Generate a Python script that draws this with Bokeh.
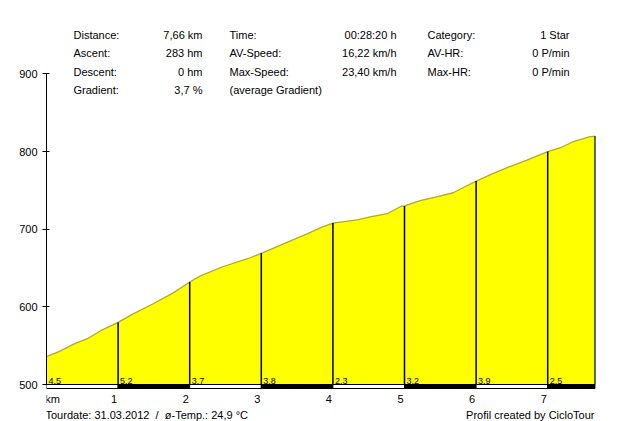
from bokeh.plotting import figure
from bokeh.models import Range1d, FixedTicker, Label
from bokeh.embed import file_html
from bokeh.resources import INLINE
from bokeh.core.properties import value
import numpy as np

# ---------------- data ----------------
dist_km = [0.0, 0.19, 0.38, 0.57, 0.75, 1.0, 1.21, 1.49, 1.77, 2.0, 2.15, 2.47, 2.81, 3.0,
           3.36, 3.64, 3.83, 4.0, 4.34, 4.52, 4.76, 4.94, 5.0, 5.22, 5.46, 5.68, 5.87, 6.0,
           6.24, 6.48, 6.71, 7.0, 7.18, 7.36, 7.58, 7.66]
elev_m = [536, 543, 552, 559, 569, 580, 591, 604, 618, 632, 640, 652, 662, 669,
          683, 694, 702, 708, 712, 716, 720, 729, 730, 737, 742, 747, 756, 762,
          772, 781, 789, 800, 805, 813, 819, 820]
km_ticks = [1, 2, 3, 4, 5, 6, 7]
km_tick_labels = ["1", "2", "3", "4", "5", "6", "7"]
elev_ticks = [500, 600, 700, 800, 900]
seg_start_km = [0, 1, 2, 3, 4, 5, 6, 7]
seg_gradient = ["4.5", "5.2", "3.7", "3.8", "2.3", "3.2", "3.9", "2.5"]
total_km = 7.66
base_elev = 500
top_elev = 900

stat_names_1 = ["Distance:", "Ascent:", "Descent:", "Gradient:"]
stat_values_1 = ["7,66 km", "283 hm", "0 hm", "3,7 %"]
stat_names_2 = ["Time:", "AV-Speed:", "Max-Speed:", "(average Gradient)"]
stat_values_2 = ["00:28:20 h", "16,22 km/h", "23,40 km/h", ""]
stat_names_3 = ["Category:", "AV-HR:", "Max-HR:", ""]
stat_values_3 = ["1 Star", "0 P/min", "0 P/min", ""]
footer_left = "Tourdate: 31.03.2012 \u00a0/\u00a0 \u00f8-Temp.: 24,9 \u00b0C"
footer_right = "Profil created by CicloTour"

# ---------------- layout ----------------
W, H = 640, 421
FL, FR, FT, FB = 46, 640, 0, 421
PX_PER_KM = 71.6
PX_PER_M = 0.7763
BASE_PX = 384
FONT = "Liberation Sans"

x_end = (FR - FL) / PX_PER_KM
y_start = base_elev - (FB - BASE_PX) / PX_PER_M
y_end = base_elev + (BASE_PX - FT) / PX_PER_M

p = figure(width=W, height=H, output_backend="svg", toolbar_location=None,
           x_range=Range1d(0, x_end), y_range=Range1d(y_start, y_end),
           x_axis_location=None,
           min_border_left=FL, min_border_right=0,
           min_border_top=0, min_border_bottom=0)
p.outline_line_color = None
p.xgrid.visible = False
p.ygrid.visible = False
p.background_fill_color = "white"
p.border_fill_color = "white"

# filled profile
p.varea(x=dist_km, y1=base_elev, y2=elev_m, fill_color="#ffff00")
p.line(dist_km, elev_m, line_color="#a8a070", line_width=1.3)

# km separator lines
marks = km_ticks
p.segment(x0=marks, x1=marks, y0=base_elev, y1=list(np.interp(marks, dist_km, elev_m)),
          line_color="black", line_width=1.5)
p.segment(x0=[total_km], x1=[total_km], y0=[base_elev], y1=[float(np.interp(total_km, dist_km, elev_m))],
          line_color="#1a401a", line_width=1.5)

# km bar
seg_end_km = seg_start_km[1:] + [total_km]
bar_colors = ["white" if i % 2 == 0 else "black" for i in range(len(seg_start_km))]
p.quad(left=seg_start_km, right=seg_end_km, top=base_elev, bottom=base_elev - 4 / PX_PER_M,
       fill_color=bar_colors, line_color="black", line_width=1)

# gradient labels
p.text(x=seg_start_km, y=[base_elev] * len(seg_start_km), text=seg_gradient,
       text_font=value(FONT), text_font_size="9px", text_color="black",
       text_baseline="bottom", text_align="left", x_offset=2, y_offset=-1)

# km tick labels (x scale)
p.text(x=km_ticks, y=[base_elev] * len(km_ticks), text=km_tick_labels,
       text_font=value(FONT), text_font_size="11px", text_color="black",
       text_baseline="middle", text_align="center", x_offset=-4, y_offset=14)

# y axis
ya = p.yaxis[0]
ya.ticker = FixedTicker(ticks=elev_ticks)
ya.bounds = (base_elev, top_elev)
ya.axis_line_color = "black"
ya.axis_line_width = 1
ya.major_tick_line_color = "black"
ya.major_tick_out = 4
ya.major_tick_in = 3
ya.minor_tick_line_color = None
ya.major_label_standoff = 5
ya.major_label_text_font = FONT
ya.major_label_text_font_size = "11px"
ya.major_label_text_color = "black"


def lab(x, y, text, align="left", size="11px"):
    p.add_layout(Label(x=x - FL, y=FB - y, x_units="screen", y_units="screen", text=text,
                       text_font=FONT, text_font_size=size, text_color="black",
                       text_align=align, text_baseline="middle"))


lab(52, 398, "km", align="center")

rows_y = [34.3, 52.7, 71, 89.3]
cols = [(73, 202, stat_names_1, stat_values_1),
        (229, 396, stat_names_2, stat_values_2),
        (427, 569, stat_names_3, stat_values_3)]
for xl, xr, names, vals in cols:
    for ry, n, v in zip(rows_y, names, vals):
        if n:
            lab(xl, ry, n)
        if v:
            lab(xr, ry, v, align="right")

lab(45, 414, footer_left)
lab(594, 414, footer_right, align="right")

open("out.html", "w").write(file_html(p, INLINE))
